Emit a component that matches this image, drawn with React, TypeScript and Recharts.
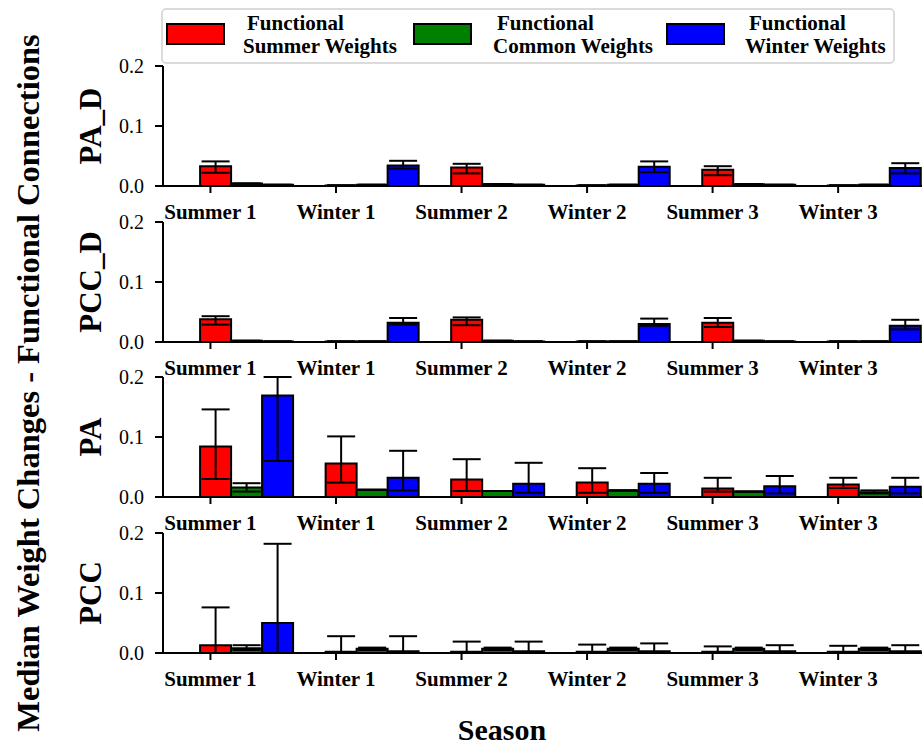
import { ComposedChart, Bar, XAxis, YAxis, ErrorBar } from 'recharts';

const seasons = ['Summer 1', 'Winter 1', 'Summer 2', 'Winter 2', 'Summer 3', 'Winter 3'];
const seasonTicks = [0, 1, 2, 3, 4, 5];
const yTicks = [0, 0.1, 0.2];

// PA_D panel
const paDSummer = [0.033, 0.001, 0.031, 0.001, 0.027, 0.001];
const paDSummerLo = [0.022, 0.001, 0.021, 0.001, 0.018, 0.001];
const paDSummerHi = [0.041, 0.001, 0.037, 0.001, 0.033, 0.001];
const paDCommon = [0.004, 0.002, 0.003, 0.002, 0.003, 0.002];
const paDWinter = [0.002, 0.034, 0.002, 0.032, 0.002, 0.030];
const paDWinterLo = [0.002, 0.029, 0.002, 0.023, 0.002, 0.021];
const paDWinterHi = [0.002, 0.042, 0.002, 0.041, 0.002, 0.038];

// PCC_D panel
const pccDSummer = [0.038, 0.001, 0.037, 0.001, 0.032, 0.001];
const pccDSummerLo = [0.029, 0.001, 0.028, 0.001, 0.025, 0.001];
const pccDSummerHi = [0.043, 0.001, 0.041, 0.001, 0.040, 0.001];
const pccDCommon = [0.002, 0.001, 0.002, 0.001, 0.002, 0.001];
const pccDWinter = [0.001, 0.032, 0.001, 0.030, 0.001, 0.027];
const pccDWinterLo = [0.001, 0.029, 0.001, 0.027, 0.001, 0.021];
const pccDWinterHi = [0.001, 0.040, 0.001, 0.039, 0.001, 0.037];

// PA panel
const paSummer = [0.084, 0.056, 0.029, 0.024, 0.014, 0.021];
const paSummerLo = [0.030, 0.024, 0.010, 0.007, 0.009, 0.015];
const paSummerHi = [0.146, 0.101, 0.063, 0.048, 0.032, 0.032];
const paCommon = [0.016, 0.012, 0.010, 0.011, 0.009, 0.008];
const paCommonLo = [0.009, 0.012, 0.010, 0.011, 0.009, 0.006];
const paCommonHi = [0.023, 0.012, 0.010, 0.011, 0.009, 0.011];
const paWinter = [0.169, 0.032, 0.022, 0.022, 0.018, 0.017];
const paWinterLo = [0.060, 0.011, 0.007, 0.007, 0.006, 0.006];
const paWinterHi = [0.2, 0.077, 0.057, 0.040, 0.035, 0.032];

// PCC panel
const pccSummer = [0.013, 0.002, 0.002, 0.002, 0.002, 0.002];
const pccSummerLo = [0, 0, 0, 0, 0, 0];
const pccSummerHi = [0.076, 0.028, 0.019, 0.014, 0.011, 0.012];
const pccCommon = [0.008, 0.007, 0.007, 0.007, 0.007, 0.007];
const pccCommonLo = [0.005, 0.005, 0.005, 0.005, 0.005, 0.005];
const pccCommonHi = [0.013, 0.009, 0.009, 0.009, 0.009, 0.009];
const pccWinter = [0.050, 0.003, 0.003, 0.003, 0.003, 0.003];
const pccWinterLo = [0, 0, 0, 0, 0, 0];
const pccWinterHi = [0.182, 0.028, 0.019, 0.016, 0.013, 0.013];

const SERIF = '"Liberation Serif", "Times New Roman", serif';
const GROUP_SHIFT = 0.29;
const X_DOMAIN = [-0.378, 5.668];
const COLORS = { summer: '#ff0000', common: '#008000', winter: '#0000ff' };

const err = (v: number[], lo: number[], hi: number[], i: number) => [
  Math.max(0, v[i] - lo[i]),
  Math.max(0, hi[i] - v[i]),
];

function buildRows(
  summer: number[], summerLo: number[], summerHi: number[],
  common: number[], commonLo: number[], commonHi: number[],
  winter: number[], winterLo: number[], winterHi: number[],
) {
  return seasons.map((s, i) => ({
    season: s,
    pos: i + GROUP_SHIFT,
    summer: summer[i],
    common: common[i],
    winter: winter[i],
    summerErr: err(summer, summerLo, summerHi, i),
    commonErr: err(common, commonLo, commonHi, i),
    winterErr: err(winter, winterLo, winterHi, i),
  }));
}

const panels = [
  { name: 'PA_D', top: 66, rows: buildRows(paDSummer, paDSummerLo, paDSummerHi, paDCommon, paDCommon, paDCommon, paDWinter, paDWinterLo, paDWinterHi) },
  { name: 'PCC_D', top: 222, rows: buildRows(pccDSummer, pccDSummerLo, pccDSummerHi, pccDCommon, pccDCommon, pccDCommon, pccDWinter, pccDWinterLo, pccDWinterHi) },
  { name: 'PA', top: 377, rows: buildRows(paSummer, paSummerLo, paSummerHi, paCommon, paCommonLo, paCommonHi, paWinter, paWinterLo, paWinterHi) },
  { name: 'PCC', top: 533, rows: buildRows(pccSummer, pccSummerLo, pccSummerHi, pccCommon, pccCommonLo, pccCommonHi, pccWinter, pccWinterLo, pccWinterHi) },
];

const legendItems = [
  { key: 'summer', line2: 'Summer Weights', patchX: 167, textX: 243 },
  { key: 'common', line2: 'Common Weights', patchX: 414, textX: 493 },
  { key: 'winter', line2: 'Winter Weights', patchX: 667, textX: 745 },
];

const PLOT_H = 120;

function Panel({ rows, top }: { rows: any[]; top: number }) {
  const axisLine = { stroke: '#000', strokeWidth: 2 };
  return (
    <div style={{ position: 'absolute', left: 0, top: top - 10 }}>
      <ComposedChart
        width={923}
        height={PLOT_H + 50}
        data={rows}
        margin={{ top: 10, right: 1, bottom: 0, left: 0 }}
        barGap={0}
        barSize={31}
      >
        <XAxis
          dataKey="pos"
          type="number"
          domain={X_DOMAIN}
          allowDataOverflow
          ticks={seasonTicks}
          interval={0}
          tickFormatter={(t: number) => seasons[t]}
          height={40}
          tickSize={7}
          tickMargin={11}
          axisLine={axisLine}
          tickLine={axisLine}
          tick={{ fill: '#000', fontSize: 21, fontWeight: 'bold', fontFamily: SERIF }}
        />
        <XAxis
          xAxisId="top"
          orientation="top"
          type="number"
          domain={X_DOMAIN}
          allowDataOverflow
          tick={false}
          tickLine={false}
          height={0}
          axisLine={axisLine}
        />
        <YAxis
          domain={[0, 0.2]}
          allowDataOverflow
          ticks={yTicks}
          interval={0}
          tickFormatter={(v: number) => v.toFixed(1)}
          width={163}
          tickSize={8}
          tickMargin={11}
          axisLine={axisLine}
          tickLine={axisLine}
          tick={{ fill: '#000', fontSize: 20, fontFamily: SERIF }}
        />
        <YAxis
          yAxisId="right"
          orientation="right"
          domain={[0, 0.2]}
          tick={false}
          tickLine={false}
          width={0}
          axisLine={axisLine}
        />
        {(['summer', 'common', 'winter'] as const).map((k) => (
          <Bar key={k} dataKey={k} fill={COLORS[k]} stroke="#000" strokeWidth={2} isAnimationActive={false}>
            <ErrorBar dataKey={`${k}Err`} direction="y" width={14} stroke="#000" strokeWidth={2} />
          </Bar>
        ))}
      </ComposedChart>
    </div>
  );
}

export default function App() {
  return (
    <div style={{ position: 'relative', width: 923, height: 749, background: '#fff', overflow: 'hidden' }}>
      <style>{'body{margin:0}'}</style>
      {panels.map((p) => (
        <Panel key={p.name} rows={p.rows} top={p.top} />
      ))}
      <svg width={923} height={749} style={{ position: 'absolute', left: 0, top: 0, pointerEvents: 'none' }}>
        <g fontFamily={SERIF} fontWeight="bold" fill="#000">
          {panels.map((p) => (
            <text
              key={p.name}
              transform={`translate(101, ${p.top + PLOT_H / 2}) rotate(-90)`}
              textAnchor="middle"
              fontSize={31}
            >
              {p.name}
            </text>
          ))}
          <text transform="translate(39, 383) rotate(-90)" textAnchor="middle" fontSize={32.5}>
            Median Weight Changes - Functional Connections
          </text>
          <text x={502} y={740} textAnchor="middle" fontSize={30}>
            Season
          </text>
        </g>
        <rect x={162} y={9} width={732} height={54} rx={4} fill="#fff" fillOpacity={0.85} stroke="#d0d0d0" strokeWidth={1.5} />
        {legendItems.map((l) => (
          <g key={l.key}>
            <rect x={l.patchX} y={24} width={57} height={20} fill={COLORS[l.key as keyof typeof COLORS]} stroke="#000" strokeWidth={2} />
            <text x={l.textX + 4} y={30} fontFamily={SERIF} fontWeight="bold" fontSize={21}>
              Functional
            </text>
            <text x={l.textX} y={53} fontFamily={SERIF} fontWeight="bold" fontSize={21}>
              {l.line2}
            </text>
          </g>
        ))}
      </svg>
    </div>
  );
}
